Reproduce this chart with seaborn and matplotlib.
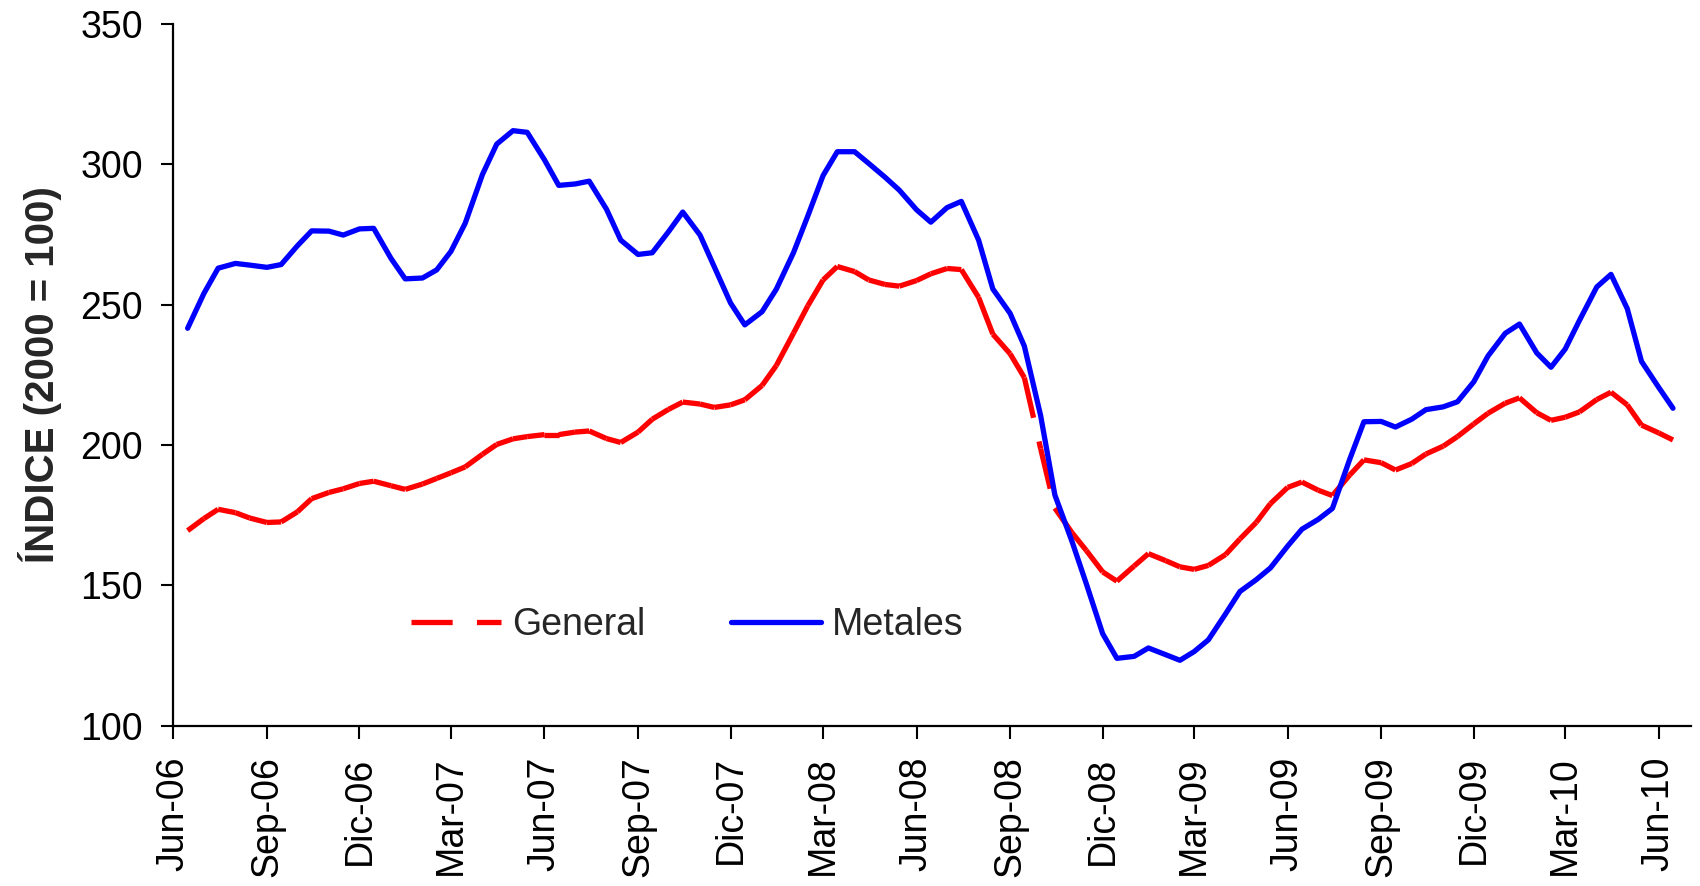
import numpy as np
import pandas as pd
import matplotlib
matplotlib.use("Agg")
import matplotlib.pyplot as plt
import seaborn as sns
from matplotlib.lines import Line2D

# ---------------- data ----------------
dates = pd.date_range("2006-06-15", "2010-06-15", freq="SMS")  # semi-monthly readings

general = [169.5, 173.8, 177.1, 175.9, 174.0, 172.4, 172.6, 176.2, 180.9, 183.1,
           184.4, 186.3, 187.1, 185.5, 184.2, 186.1, 188.1, 190.1, 192.2, 196.7,
           200.2, 202.2, 203.0, 203.7, 203.7, 204.6, 205.0, 202.3, 200.9, 204.6,
           209.2, 212.7, 215.3, 214.6, 213.4, 214.3, 216.1, 221.2, 228.3, 239.9,
           249.6, 258.8, 263.6, 261.8, 258.8, 257.2, 256.6, 258.6, 261.0, 262.9,
           262.5, 252.6, 239.5, 232.5, 224.0, 198.7, 177.5, 168.7, 162.4, 154.8,
           151.5, 156.9, 161.3, 158.8, 156.6, 155.7, 157.1, 161.0, 166.5, 172.4,
           179.1, 184.9, 186.8, 183.9, 182.0, 189.3, 194.7, 193.7, 191.1, 193.4,
           196.8, 199.6, 203.0, 207.5, 211.3, 214.9, 216.8, 211.5, 208.8, 209.9,
           211.8, 216.2, 218.8, 214.3, 207.1, 204.3, 201.8]

metales = [241.6, 254.0, 263.0, 264.7, 264.1, 263.3, 264.3, 271.0, 276.3, 276.2,
           274.8, 277.0, 277.2, 266.5, 259.2, 259.5, 262.4, 269.0, 279.0, 296.4,
           307.2, 312.0, 311.4, 301.6, 292.5, 293.0, 294.0, 284.0, 273.0, 267.9,
           268.5, 276.0, 283.0, 274.8, 263.5, 250.6, 242.8, 247.5, 255.5, 268.6,
           281.6, 296.0, 304.5, 304.5, 300.3, 295.4, 290.8, 283.8, 279.4, 284.6,
           286.8, 273.0, 255.6, 246.9, 235.2, 210.5, 182.2, 165.5, 150.5, 132.8,
           124.0, 124.7, 127.7, 125.3, 123.3, 126.4, 130.6, 139.9, 147.8, 152.0,
           156.2, 164.0, 170.0, 173.5, 177.4, 194.9, 208.3, 208.4, 206.4, 209.2,
           212.6, 213.6, 215.4, 222.5, 231.7, 239.8, 243.1, 232.8, 227.7, 234.2,
           244.4, 256.3, 260.8, 248.6, 229.8, 220.5, 213.1]

series_names = ["General", "Metales"]
tick_dates = pd.date_range("2006-06-01", "2010-06-01", freq="3MS")
tick_labels = ["Jun-06", "Sep-06", "Dic-06", "Mar-07", "Jun-07", "Sep-07",
               "Dic-07", "Mar-08", "Jun-08", "Sep-08", "Dic-08", "Mar-09",
               "Jun-09", "Sep-09", "Dic-09", "Mar-10", "Jun-10"]
y_ticks = [100, 150, 200, 250, 300, 350]
y_label = "ÍNDICE (2000 = 100)"

assert len(general) == len(dates) == len(metales)

# ---------------- style ----------------
sns.set_style("white")
plt.rcParams["font.family"] = ["Liberation Sans", "DejaVu Sans"]

RED = "#FF0000"
BLUE = "#0000FF"
LW = 3.8
DASH = (0, (7.8, 4.6))
FS = 27

fig = plt.figure(figsize=(17, 8.86), dpi=100)
ax = fig.add_axes([173.4 / 1700, 1 - 725.7 / 886,
                   (1691.3 - 173.4) / 1700, (725.7 - 24) / 886])

# General: each segment drawn as its own unit so the dash pattern restarts
rows = []
for i in range(len(dates) - 1):
    for j in (i, i + 1):
        rows.append({"fecha": dates[j], "valor": general[j], "tramo": i})
gen_df = pd.DataFrame(rows)
sns.lineplot(data=gen_df, x="fecha", y="valor", units="tramo", estimator=None,
             color=RED, lw=LW, linestyle=DASH, dash_capstyle="butt",
             legend=False, ax=ax)

met_df = pd.DataFrame({"fecha": dates, "valor": metales})
sns.lineplot(data=met_df, x="fecha", y="valor", color=BLUE, lw=LW,
             solid_capstyle="round", solid_joinstyle="round",
             legend=False, ax=ax)

# ---------------- axes ----------------
ax.set_xlim(pd.Timestamp("2006-06-01"), pd.Timestamp("2010-07-03"))
ax.set_ylim(100, 350)
ax.set_yticks(y_ticks)
ax.set_xticks(tick_dates)
ax.set_xticklabels(tick_labels, rotation=90)
ax.set_xlabel("")
ax.set_ylabel(y_label, fontsize=29, fontweight="bold", labelpad=13)

for s in ["top", "right"]:
    ax.spines[s].set_visible(False)
for s in ["left", "bottom"]:
    ax.spines[s].set_color("black")
    ax.spines[s].set_linewidth(1.6)

ax.tick_params(axis="both", which="major", direction="out", length=9,
               width=1.5, color="black", labelsize=FS, labelcolor="black",
               bottom=True, left=True)
ax.tick_params(axis="y", pad=13)
ax.tick_params(axis="x", pad=13)

handles = [Line2D([], [], color=RED, lw=LW, linestyle=DASH, dash_capstyle="butt"),
           Line2D([], [], color=BLUE, lw=LW, solid_capstyle="round")]
ax.legend(handles, series_names, ncol=2, frameon=False, loc="center left",
          bbox_to_anchor=(0.1565, 0.143), borderpad=0, borderaxespad=0,
          handlelength=2.4, handletextpad=0.3, columnspacing=2.27, fontsize=FS)

fig.savefig("out.png", dpi=100)
